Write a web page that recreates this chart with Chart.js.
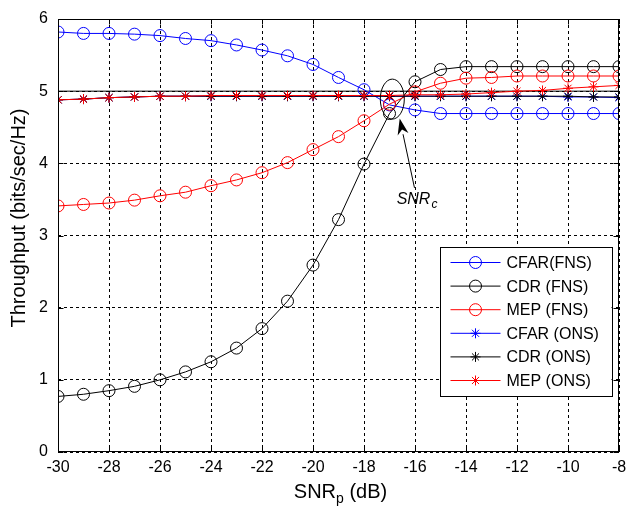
<!DOCTYPE html>
<html>
<head>
<meta charset="utf-8">
<script src="https://cdn.jsdelivr.net/npm/chart.js@4.4.0/dist/chart.umd.min.js"></script>
<style>
  html, body { margin: 0; padding: 0; background: #fff; }
  #wrap { width: 626px; height: 507px; }
</style>
</head>
<body>
<div id="wrap"><canvas id="myChart" width="626" height="507"></canvas></div>
<script>
// SNR_p in dB
var snrDb = [-30, -29, -28, -27, -26, -25, -24, -23, -22, -21, -20, -19, -18, -17, -16, -15, -14, -13, -12, -11, -10, -9, -8];

// full noise statistics
var cfarFns = [5.82, 5.80, 5.80, 5.79, 5.77, 5.73, 5.70, 5.64, 5.57, 5.49, 5.37, 5.19, 5.02, 4.81, 4.74, 4.69, 4.69, 4.69, 4.69, 4.69, 4.69, 4.69, 4.69];
var cdrFns = [0.77, 0.80, 0.85, 0.91, 1.00, 1.11, 1.25, 1.44, 1.71, 2.09, 2.59, 3.22, 3.99, 4.69, 5.13, 5.30, 5.34, 5.34, 5.34, 5.34, 5.34, 5.34, 5.34];
var mepFns = [3.41, 3.43, 3.45, 3.49, 3.55, 3.60, 3.69, 3.77, 3.87, 4.01, 4.19, 4.37, 4.59, 4.82, 4.99, 5.11, 5.18, 5.19, 5.21, 5.21, 5.21, 5.21, 5.21];

// other noise statistics
var cfarOns = [4.88, 4.89, 4.91, 4.92, 4.93, 4.93, 4.93, 4.93, 4.93, 4.93, 4.93, 4.93, 4.93, 4.93, 4.93, 4.93, 4.93, 4.93, 4.93, 4.93, 4.92, 4.92, 4.91];
var cdrOns = [4.88, 4.89, 4.91, 4.92, 4.93, 4.93, 4.93, 4.93, 4.93, 4.93, 4.93, 4.93, 4.93, 4.93, 4.93, 4.93, 4.93, 4.93, 4.93, 4.93, 4.93, 4.92, 4.92];
var mepOns = [4.88, 4.89, 4.91, 4.92, 4.93, 4.93, 4.94, 4.94, 4.94, 4.94, 4.94, 4.94, 4.94, 4.94, 4.95, 4.95, 4.96, 4.98, 5.00, 5.01, 5.04, 5.06, 5.08];

// solid reference line at 5
var refX = [-30, -8];
var refY = [5, 5];

var xTicks = [-30, -28, -26, -24, -22, -20, -18, -16, -14, -12, -10, -8];
var yTicks = [0, 1, 2, 3, 4, 5, 6];

var FONT = '"Liberation Sans", Arial, sans-serif';

function pts(xs, ys) {
    return ys.map(function(y, i) { return { x: xs[i], y: y }; });
}

function series(label, ys, color, style, order) {
    return {
        label: label,
        data: pts(snrDb, ys),
        borderColor: color,
        backgroundColor: color,
        borderWidth: 1,
        pointStyle: style,
        pointRadius: style === 'circle' ? 6 : 5,
        pointBorderColor: color,
        pointBackgroundColor: 'rgba(0,0,0,0)',
        pointBorderWidth: 1,
        tension: 0,
        order: order
    };
}

function drawMarker(ctx, style, x, y, r, color) {
    ctx.strokeStyle = color;
    ctx.lineWidth = 1;
    ctx.beginPath();
    if (style === 'circle') {
        ctx.arc(x, y, r, 0, Math.PI * 2);
    } else {
        for (var k = 0; k < 4; k++) {
            var ang = k * Math.PI / 4;
            ctx.moveTo(x - Math.cos(ang) * r, y - Math.sin(ang) * r);
            ctx.lineTo(x + Math.cos(ang) * r, y + Math.sin(ang) * r);
        }
    }
    ctx.stroke();
}

var decorations = {
    id: 'decorations',
    afterDraw: function(chart) {
        var ctx = chart.ctx, a = chart.chartArea;
        var xs = chart.scales.x, ys = chart.scales.y;
        ctx.save();
        ctx.setLineDash([]);

        // axes box
        ctx.strokeStyle = '#000';
        ctx.lineWidth = 1;
        var L = Math.round(a.left) + 0.5, R = Math.round(a.right) - 0.5;
        var T = Math.round(a.top) + 0.5, B = Math.round(a.bottom) - 0.5;
        ctx.strokeRect(L, T, R - L, B - T);

        // inward ticks
        ctx.beginPath();
        xTicks.forEach(function(v) {
            var px = Math.round(xs.getPixelForValue(v)) + 0.5;
            ctx.moveTo(px, B); ctx.lineTo(px, B - 5);
            ctx.moveTo(px, T); ctx.lineTo(px, T + 5);
        });
        yTicks.forEach(function(v) {
            var py = Math.round(ys.getPixelForValue(v)) + 0.5;
            ctx.moveTo(L, py); ctx.lineTo(L + 5, py);
            ctx.moveTo(R, py); ctx.lineTo(R - 5, py);
        });
        ctx.stroke();

        // ellipse around the crossing point
        var cx = xs.getPixelForValue(-16.89), cy = ys.getPixelForValue(4.89);
        ctx.beginPath();
        ctx.ellipse(cx, cy, 12, 20, 0, 0, Math.PI * 2);
        ctx.stroke();

        // arrow
        var tx = xs.getPixelForValue(-16.6), ty = ys.getPixelForValue(4.62);
        var sx = xs.getPixelForValue(-16.02), sy = ys.getPixelForValue(3.66);
        var dx = tx - sx, dy = ty - sy, len = Math.sqrt(dx * dx + dy * dy);
        var ux = dx / len, uy = dy / len;
        var hl = 16, hw = 5.5;
        var bx = tx - ux * hl, by = ty - uy * hl;
        ctx.beginPath();
        ctx.moveTo(sx, sy); ctx.lineTo(bx, by);
        ctx.stroke();
        ctx.fillStyle = '#000';
        ctx.beginPath();
        ctx.moveTo(tx, ty);
        ctx.lineTo(bx - uy * hw, by + ux * hw);
        ctx.lineTo(tx - ux * hl * 0.7, ty - uy * hl * 0.7);
        ctx.lineTo(bx + uy * hw, by - ux * hw);
        ctx.closePath();
        ctx.fill();

        // SNR_c label
        ctx.fillStyle = '#000';
        ctx.textBaseline = 'alphabetic';
        ctx.textAlign = 'left';
        var lx = xs.getPixelForValue(-16.72), lb = ys.getPixelForValue(3.44);
        ctx.font = 'italic 16px ' + FONT;
        ctx.fillText('SNR', lx, lb);
        var w1 = ctx.measureText('SNR').width;
        ctx.font = 'italic 12px ' + FONT;
        ctx.fillText('c', lx + w1 + 1, lb + 4);

        // legend
        var items = chart.data.datasets.filter(function(d) { return d.label; });
        var boxR = R - 7, boxB = B - 56, boxL = boxR - 172, boxT = boxB - 149;
        ctx.fillStyle = '#fff';
        ctx.fillRect(boxL, boxT, boxR - boxL, boxB - boxT);
        ctx.strokeStyle = '#000';
        ctx.strokeRect(Math.round(boxL) + 0.5, Math.round(boxT) + 0.5, boxR - boxL, boxB - boxT);
        ctx.font = '16px ' + FONT;
        ctx.textBaseline = 'middle';
        items.forEach(function(d, i) {
            var yy = boxT + 16 + i * 23.6;
            ctx.strokeStyle = d.borderColor;
            ctx.lineWidth = 1;
            ctx.beginPath();
            ctx.moveTo(boxL + 11, yy); ctx.lineTo(boxL + 61, yy);
            ctx.stroke();
            drawMarker(ctx, d.pointStyle, boxL + 36, yy, d.pointRadius, d.borderColor);
            ctx.fillStyle = '#000';
            ctx.fillText(d.label, boxL + 67, yy + 1);
        });

        // y title
        ctx.save();
        ctx.translate(19, 218);
        ctx.rotate(-Math.PI / 2);
        ctx.font = '20px ' + FONT;
        ctx.textAlign = 'center';
        ctx.textBaseline = 'middle';
        ctx.fillStyle = '#000';
        ctx.fillText('Throughput (bits/sec/Hz)', 0, 0);
        ctx.restore();

        // x title with subscript
        ctx.fillStyle = '#000';
        ctx.textBaseline = 'alphabetic';
        ctx.textAlign = 'left';
        ctx.font = '20px ' + FONT;
        var wA = ctx.measureText('SNR').width, wC = ctx.measureText(' (dB)').width;
        ctx.font = '14px ' + FONT;
        var wB = ctx.measureText('p').width;
        var x0 = (a.left + a.right) / 2 + 2 - (wA + wB + wC) / 2;
        var base = 498;
        ctx.font = '20px ' + FONT;
        ctx.fillText('SNR', x0, base);
        ctx.font = '14px ' + FONT;
        ctx.fillText('p', x0 + wA, base + 5);
        ctx.font = '20px ' + FONT;
        ctx.fillText(' (dB)', x0 + wA + wB, base);

        ctx.restore();
    }
};

var ctx = document.getElementById('myChart').getContext('2d');
var myChart = new Chart(ctx, {
    type: 'line',
    data: {
        datasets: [
            series('CFAR(FNS)', cfarFns, '#0000ff', 'circle', 5),
            series('CDR (FNS)', cdrFns, '#000000', 'circle', 4),
            series('MEP (FNS)', mepFns, '#ff0000', 'circle', 3),
            series('CFAR (ONS)', cfarOns, '#0000ff', 'star', 2),
            series('CDR (ONS)', cdrOns, '#000000', 'star', 1),
            series('MEP (ONS)', mepOns, '#ff0000', 'star', 0),
            {
                label: '',
                data: pts(refX, refY),
                borderColor: '#000000',
                borderWidth: 1,
                pointRadius: 0,
                order: 6
            }
        ]
    },
    plugins: [decorations],
    options: {
        responsive: false,
        devicePixelRatio: 1,
        animation: false,
        layout: { padding: { left: 0, right: 6, top: 19, bottom: 0 } },
        plugins: {
            legend: { display: false },
            tooltip: { enabled: false }
        },
        scales: {
            x: {
                type: 'linear',
                min: -30,
                max: -8,
                afterFit: function(s) { s.height = 55; s.paddingLeft = 0; s.paddingRight = 0; },
                afterBuildTicks: function(s) { s.ticks = xTicks.map(function(v) { return { value: v }; }); },
                grid: { color: '#000', lineWidth: 1, drawTicks: false },
                border: { display: false, dash: [3, 3] },
                ticks: { color: '#000', font: { family: FONT, size: 16 }, padding: 6, maxRotation: 0, autoSkip: false }
            },
            y: {
                min: 0,
                max: 6,
                afterFit: function(s) { s.width = 58; s.paddingTop = 0; s.paddingBottom = 0; },
                afterBuildTicks: function(s) { s.ticks = yTicks.map(function(v) { return { value: v }; }); },
                grid: { color: '#000', lineWidth: 1, drawTicks: false },
                border: { display: false, dash: [3, 3] },
                ticks: { color: '#000', font: { family: FONT, size: 16 }, padding: 10 }
            }
        }
    }
});
</script>
</body>
</html>
